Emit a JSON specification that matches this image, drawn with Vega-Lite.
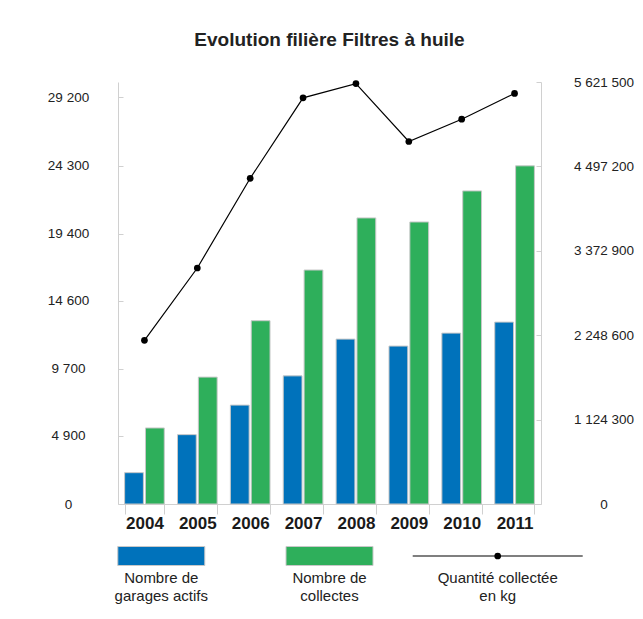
{
  "$schema": "https://vega.github.io/schema/vega-lite/v6.json",
  "padding": {"left": 47, "top": 31, "right": 5, "bottom": 5},
  "background": "white",
  "config": {
    "locale": {"number": {"decimal": ",", "thousands": " ", "grouping": [3], "currency": ["", " €"]}},
    "view": {"stroke": null},
    "font": "Liberation Sans",
    "axis": {"domainColor": "#d0d0d0", "tickColor": "#d0d0d0", "grid": false, "labelColor": "#222222", "labelFont": "Liberation Sans", "title": null}
  },
  "spacing": 13,
  "datasets": {
    "bars": [
      {"year": "2004", "series": "Nombre de garages actifs", "value": 2250},
      {"year": "2004", "series": "Nombre de collectes", "value": 5460},
      {"year": "2005", "series": "Nombre de garages actifs", "value": 4980},
      {"year": "2005", "series": "Nombre de collectes", "value": 9110},
      {"year": "2006", "series": "Nombre de garages actifs", "value": 7100},
      {"year": "2006", "series": "Nombre de collectes", "value": 13160},
      {"year": "2007", "series": "Nombre de garages actifs", "value": 9200},
      {"year": "2007", "series": "Nombre de collectes", "value": 16800},
      {"year": "2008", "series": "Nombre de garages actifs", "value": 11840},
      {"year": "2008", "series": "Nombre de collectes", "value": 20540},
      {"year": "2009", "series": "Nombre de garages actifs", "value": 11340},
      {"year": "2009", "series": "Nombre de collectes", "value": 20250},
      {"year": "2010", "series": "Nombre de garages actifs", "value": 12270},
      {"year": "2010", "series": "Nombre de collectes", "value": 22480},
      {"year": "2011", "series": "Nombre de garages actifs", "value": 13060},
      {"year": "2011", "series": "Nombre de collectes", "value": 24280}
    ],
    "qty": [
      {"year": "2004", "kg": 2180000},
      {"year": "2005", "kg": 3144000},
      {"year": "2006", "kg": 4339000},
      {"year": "2007", "kg": 5411000},
      {"year": "2008", "kg": 5600000},
      {"year": "2009", "kg": 4829000},
      {"year": "2010", "kg": 5126000},
      {"year": "2011", "kg": 5469000}
    ],
    "legend": [
      {"item": "Nombre de garages actifs", "label": "Nombre de\ngarages actifs"},
      {"item": "Nombre de collectes", "label": "Nombre de\ncollectes"},
      {"item": "Quantité collectée en kg", "label": "Quantité collectée\nen kg"}
    ]
  },
  "vconcat": [
    {
      "width": 423,
      "height": 422,
      "title": {"text": "Evolution filière Filtres à huile", "fontSize": 19, "fontWeight": "bold", "font": "Liberation Sans", "color": "#222222", "anchor": "middle", "frame": "group", "offset": 25},
      "layer": [
        {
          "data": {"name": "bars"},
          "mark": {"type": "bar", "stroke": "#c8c8c8", "strokeWidth": 1},
          "encoding": {
            "x": {"field": "year", "type": "nominal", "scale": {"paddingInner": 0.25, "paddingOuter": 0.125},
              "axis": {"title": null, "labelAngle": 0, "labelFontSize": 17, "labelFontWeight": "bold", "labelColor": "#1a1a1a", "tickBand": "extent", "tickSize": 10, "labelPadding": 1}},
            "xOffset": {"field": "series", "type": "nominal", "sort": ["Nombre de garages actifs", "Nombre de collectes"], "scale": {"paddingInner": 0.1}},
            "y": {"field": "value", "type": "quantitative", "scale": {"domain": [0, 30300], "nice": false},
              "axis": {"orient": "left", "title": null, "values": [0, 4900, 9700, 14600, 19400, 24300, 29200], "format": ",d", "labelFontSize": 13.5, "labelAlign": "center", "labelPadding": 55, "tickSize": -5}},
            "color": {"field": "series", "type": "nominal", "scale": {"domain": ["Nombre de garages actifs", "Nombre de collectes"], "range": ["#0072bb", "#2eaf5b"]}, "legend": null}
          }
        },
        {
          "data": {"name": "qty"},
          "mark": {"type": "line", "color": "black", "strokeWidth": 1.2, "point": {"filled": true, "size": 45, "color": "black"}},
          "encoding": {
            "x": {"field": "year", "type": "nominal"},
            "y": {"field": "kg", "type": "quantitative", "scale": {"domain": [0, 5621500], "nice": false},
              "axis": {"orient": "right", "title": null, "values": [0, 1124300, 2248600, 3372900, 4497200, 5621500], "format": ",d", "labelFontSize": 13.5, "labelAlign": "center", "labelPadding": 67.5, "tickSize": -5}}
          }
        }
      ],
      "resolve": {"scale": {"y": "independent"}}
    },
    {
      "width": 423,
      "height": 20,
      "data": {"name": "legend"},
      "encoding": {
        "x": {"field": "item", "type": "nominal", "sort": null, "scale": {"type": "point", "padding": 0.2574}, "axis": null}
      },
      "layer": [
        {
          "transform": [{"filter": "datum.item !== 'Quantité collectée en kg'"}],
          "mark": {"type": "point", "shape": "M-1,-0.2184H1V0.2184H-1Z", "size": 7569, "filled": true, "stroke": "#c8c8c8", "strokeWidth": 1, "opacity": 1},
          "encoding": {
            "color": {"field": "item", "type": "nominal", "scale": {"domain": ["Nombre de garages actifs", "Nombre de collectes"], "range": ["#0072bb", "#2eaf5b"]}, "legend": null}
          }
        },
        {
          "transform": [{"filter": "datum.item === 'Quantité collectée en kg'"}],
          "mark": {"type": "point", "shape": "M-1,0H1", "size": 28900, "filled": false, "stroke": "black", "strokeWidth": 1.2, "opacity": 1},
          "encoding": {}
        },
        {
          "transform": [{"filter": "datum.item === 'Quantité collectée en kg'"}],
          "mark": {"type": "circle", "size": 45, "color": "black", "opacity": 1},
          "encoding": {}
        },
        {
          "mark": {"type": "text", "lineBreak": "\n", "baseline": "top", "dy": 15, "fontSize": 15, "color": "#222222", "lineHeight": 18, "font": "Liberation Sans"},
          "encoding": {"text": {"field": "label"}}
        }
      ]
    }
  ]
}
